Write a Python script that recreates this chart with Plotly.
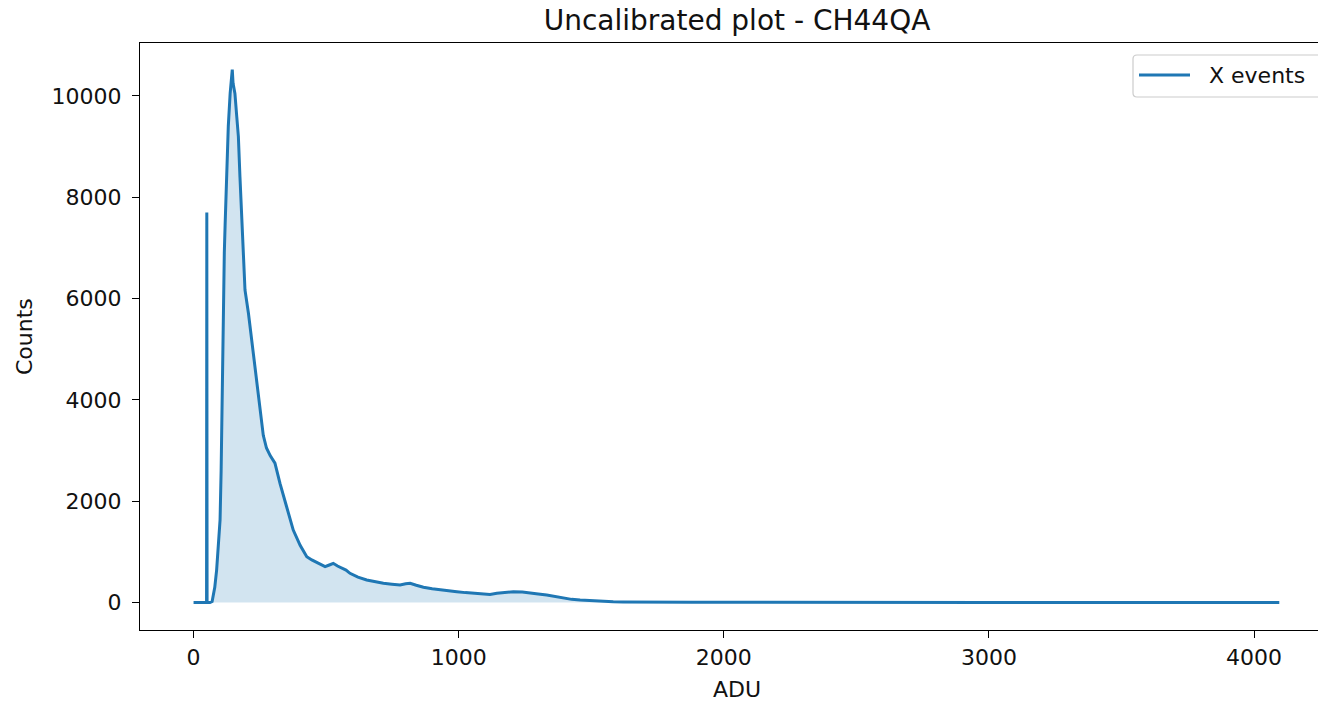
import plotly.graph_objects as go

# Histogram of X events (ADU channel -> counts), sampled along the spectrum
adu = [0, 20, 40, 48, 49, 50, 51, 55, 62, 70, 74, 80, 87, 93, 100, 104, 106,
       108, 110, 112, 116, 119, 125, 131, 138, 143, 146, 149, 153, 156, 163,
       169, 175, 182, 188, 194, 207, 219, 232, 244, 251, 257, 263, 275, 289,
       307, 326, 351, 376, 402, 427, 446, 465, 480, 496, 512, 527, 543, 559,
       575, 590, 620, 653, 685, 716, 748, 779, 800, 817, 840, 867, 900, 930,
       960, 993, 1025, 1055, 1081, 1118, 1144, 1175, 1206, 1240, 1269, 1300,
       1332, 1363, 1395, 1426, 1458, 1490, 1521, 1552, 1583, 1620, 1650, 1709,
       1760, 1820, 1880, 1950, 2000, 2050, 2100, 2200, 2500, 3000, 3500, 4095]
counts = [0, 0, 0, 0, 0, 7700, 0, 0, 0, 20, 110, 300, 640, 1100, 1630, 2600,
          3400, 4130, 4930, 6110, 6900, 7450, 8700, 9400, 10050, 10400, 10520,
          10250, 10150, 10050, 9590, 9200, 8400, 7500, 6600, 6170, 5710, 5180,
          4720, 4195, 3850, 3560, 3300, 3050, 2900, 2750, 2350, 1890, 1430,
          1130, 905, 840, 790, 760, 707, 740, 773, 720, 675, 640, 576, 500,
          444, 410, 379, 360, 345, 370, 379, 340, 300, 270, 247, 230, 213,
          195, 182, 182, 160, 182, 195, 213, 205, 193, 170, 148, 115, 83, 62,
          49, 38, 30, 22, 16, 12, 10, 10, 8, 8, 6, 6, 5, 4, 3, 2, 1, 0, 0, 0]

# Region of interest that is shaded under the curve
roi_start, roi_end = 62, 2000

x_ticks = [0, 1000, 2000, 3000, 4000]
y_ticks = [0, 2000, 4000, 6000, 8000, 10000]

title_text = "Uncalibrated plot - CH44QA"
x_label = "ADU"
y_label = "Counts"
series_name = "X events"

blue = "#1f77b4"
font_family = "DejaVu Sans, Liberation Sans, sans-serif"
text_size = 22

W, H = 1318, 703
ML, MR, MT, MB = 140, 0, 43, 73
PW, PH = W - ML - MR, H - MT - MB


def px_x(p):
    return (p - ML) / PW


def px_y(p):
    return (H - MB - p) / PH


roi_x = [a for a in adu if roi_start <= a <= roi_end]
roi_y = [c for a, c in zip(adu, counts) if roi_start <= a <= roi_end]

fig = go.Figure()
fig.add_trace(go.Scatter(
    x=roi_x, y=roi_y, mode="lines", fill="tozeroy",
    fillcolor="rgba(31,119,180,0.2)", line=dict(width=0, color=blue),
    showlegend=False, hoverinfo="skip"))
fig.add_trace(go.Scatter(
    x=adu, y=counts, mode="lines", name=series_name,
    line=dict(color=blue, width=3), showlegend=False))

axis_common = dict(
    showgrid=False, zeroline=False, showline=True, linecolor="black",
    linewidth=1.3, ticks="outside", ticklen=7, tickwidth=1.3,
    tickcolor="black",
    tickfont=dict(family=font_family, size=text_size, color="#111"),
)

fig.update_xaxes(range=[-202, 4241], tickvals=x_ticks,
                 ticktext=[str(v) for v in x_ticks], mirror=True,
                 **axis_common)
fig.update_yaxes(range=[-543, 11046], tickvals=y_ticks,
                 ticktext=[str(v) for v in y_ticks], mirror=False,
                 ticklabelstandoff=6, **axis_common)

# Legend box (rounded) with sample line and label
lx0, lx1, ly0, ly1, r = 1133, 1340, 55, 97, 4
path = (
    f"M {px_x(lx0 + r)},{px_y(ly0)} L {px_x(lx1)},{px_y(ly0)} "
    f"L {px_x(lx1)},{px_y(ly1)} L {px_x(lx0 + r)},{px_y(ly1)} "
    f"Q {px_x(lx0)},{px_y(ly1)} {px_x(lx0)},{px_y(ly1 - r)} "
    f"L {px_x(lx0)},{px_y(ly0 + r)} "
    f"Q {px_x(lx0)},{px_y(ly0)} {px_x(lx0 + r)},{px_y(ly0)} Z"
)
fig.add_shape(type="path", path=path, xref="paper", yref="paper",
              line=dict(color="#cccccc", width=1.2), fillcolor="white",
              layer="above")
fig.add_shape(type="line", xref="paper", yref="paper",
              x0=px_x(1139), x1=px_x(1190), y0=px_y(75), y1=px_y(75),
              line=dict(color=blue, width=3), layer="above")

fig.add_annotation(text=series_name, xref="paper", yref="paper",
                   x=px_x(1207), y=px_y(75), xanchor="left", yanchor="middle",
                   showarrow=False,
                   font=dict(family=font_family, size=text_size, color="#111"))

# Axis titles
fig.add_annotation(text=x_label, xref="paper", yref="paper",
                   x=px_x(737), y=px_y(689), xanchor="center",
                   yanchor="middle", showarrow=False,
                   font=dict(family=font_family, size=text_size, color="#111"))
fig.add_annotation(text=y_label, xref="paper", yref="paper",
                   x=px_x(25), y=px_y(337), xanchor="center",
                   yanchor="middle", textangle=-90, showarrow=False,
                   font=dict(family=font_family, size=text_size, color="#111"))

fig.update_layout(
    width=W, height=H,
    margin=dict(l=ML, r=MR, t=MT, b=MB, pad=0),
    paper_bgcolor="white", plot_bgcolor="white",
    title=dict(text=title_text, x=px_x(737), xref="paper", xanchor="center",
               y=1 - 20 / H, yref="container", yanchor="middle",
               font=dict(family=font_family, size=28, color="#111")),
    showlegend=False,
)

fig.write_html("out.html")
